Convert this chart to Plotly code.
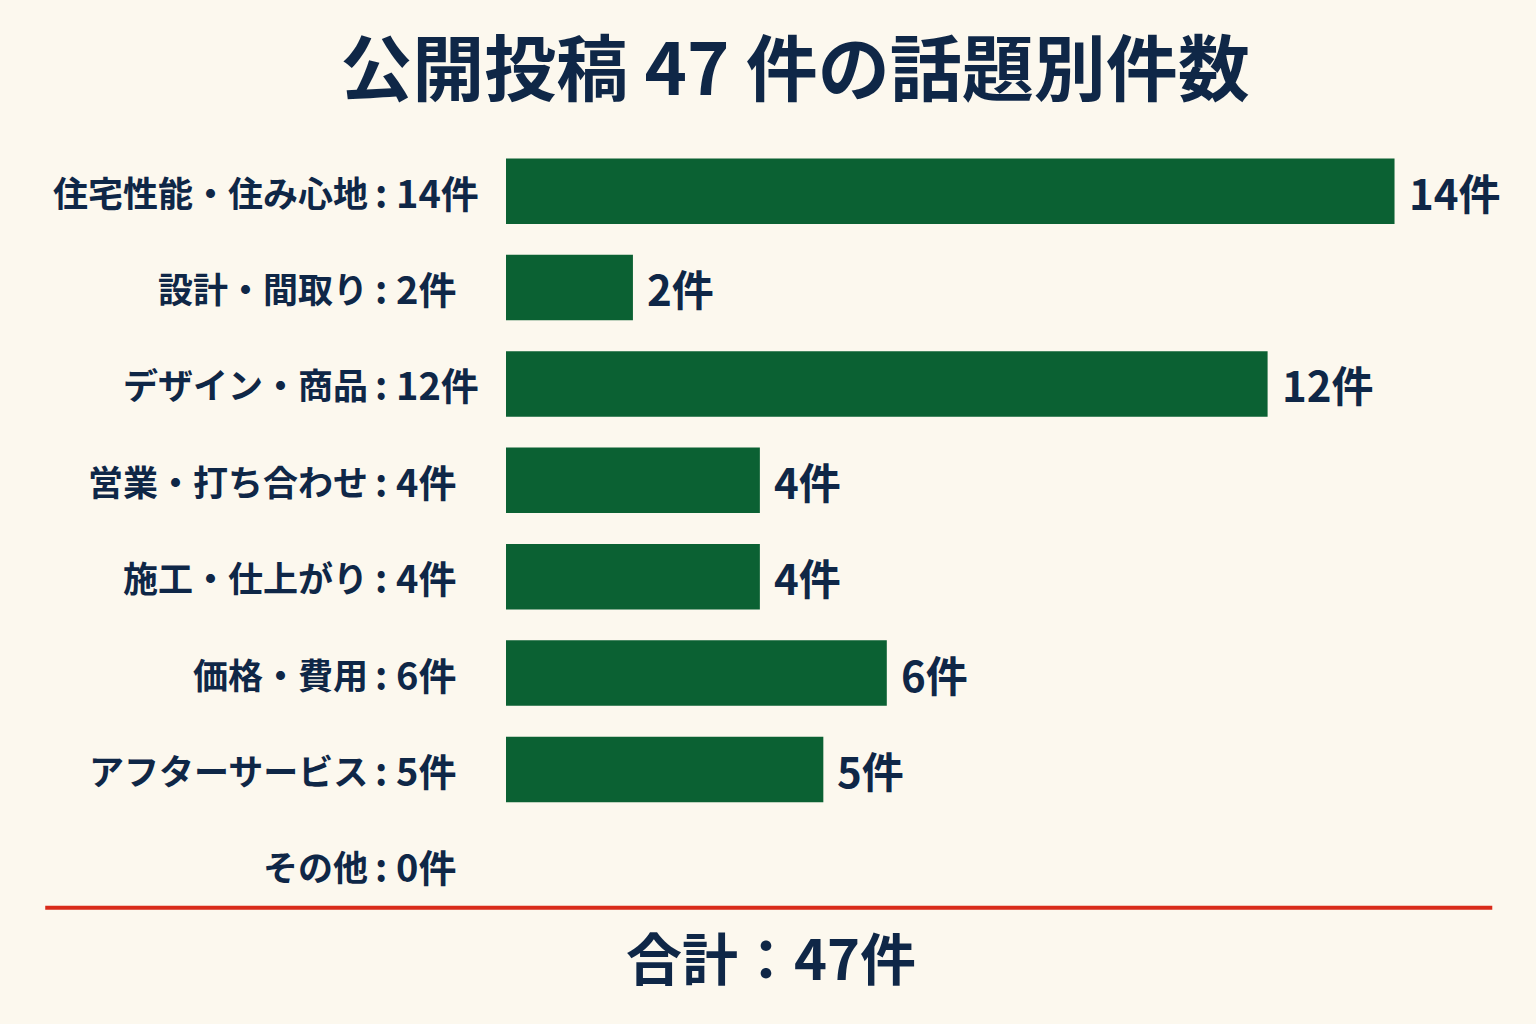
import plotly.graph_objects as go

# data
topics = [
    "住宅性能・住み心地",
    "設計・間取り",
    "デザイン・商品",
    "営業・打ち合わせ",
    "施工・仕上がり",
    "価格・費用",
    "アフターサービス",
    "その他",
]
counts = [14, 2, 12, 4, 4, 6, 5, 0]
total = sum(counts)

BG = "#FCF8EE"
GREEN = "#0B6133"
NAVY = "#0F2747"
RED = "#D92B1A"
FONT = "Noto Sans CJK JP"

fig = go.Figure()
fig.add_trace(
    go.Bar(
        x=counts,
        y=topics,
        orientation="h",
        width=0.68,
        marker=dict(color=GREEN, line=dict(width=0)),
        hoverinfo="skip",
    )
)

# left labels: topic, colon, count (colons lined up)
for t, c in zip(topics, counts):
    fig.add_annotation(
        x=0, xref="paper", y=t, yref="y",
        text=t, showarrow=False,
        xanchor="right", xshift=-136,
        font=dict(family=FONT, size=35, color=NAVY, weight="bold"),
    )
    fig.add_annotation(
        x=0, xref="paper", y=t, yref="y",
        text=":", showarrow=False,
        xanchor="center", xshift=-125,
        font=dict(family=FONT, size=38, color=NAVY, weight="bold"),
    )
    fig.add_annotation(
        x=0, xref="paper", y=t, yref="y",
        text=f"{c}件", showarrow=False,
        xanchor="left", xshift=-112,
        font=dict(family=FONT, size=38, color=NAVY, weight="bold"),
    )
    if c > 0:
        fig.add_annotation(
            x=c, xref="x", y=t, yref="y",
            text=f"{c}件", showarrow=False,
            xanchor="left", xshift=12,
            font=dict(family=FONT, size=42, color=NAVY, weight="bold"),
        )

# red rule and total
fig.add_shape(
    type="line", xref="paper", yref="paper",
    x0=-0.484, x1=1.036, y0=0.008, y1=0.008,
    line=dict(color=RED, width=4),
)
fig.add_annotation(
    x=0.278, xref="paper", y=-0.054, yref="paper",
    text=f"合計：{total}件", showarrow=False,
    xanchor="center", yanchor="middle",
    font=dict(family=FONT, size=56, color=NAVY, weight="bold"),
)

fig.update_layout(
    width=1536,
    height=1024,
    paper_bgcolor=BG,
    plot_bgcolor=BG,
    margin=dict(l=506, r=78, t=143, b=110),
    showlegend=False,
    title=dict(
        text="公開投稿 47 件の話題別件数",
        x=0.5176, xanchor="center",
        y=0.932, yanchor="middle",
        font=dict(family=FONT, size=72, color=NAVY, weight="bold"),
    ),
    bargap=0.32,
)
fig.update_xaxes(range=[0, 15], visible=False)
fig.update_yaxes(
    categoryorder="array", categoryarray=topics,
    autorange="reversed", showticklabels=False,
    showgrid=False, zeroline=False,
)

fig.write_html(
    "out.html",
    config={"displayModeBar": False},
    post_script="document.body.style.margin='0';document.body.style.background='" + BG + "';",
)
